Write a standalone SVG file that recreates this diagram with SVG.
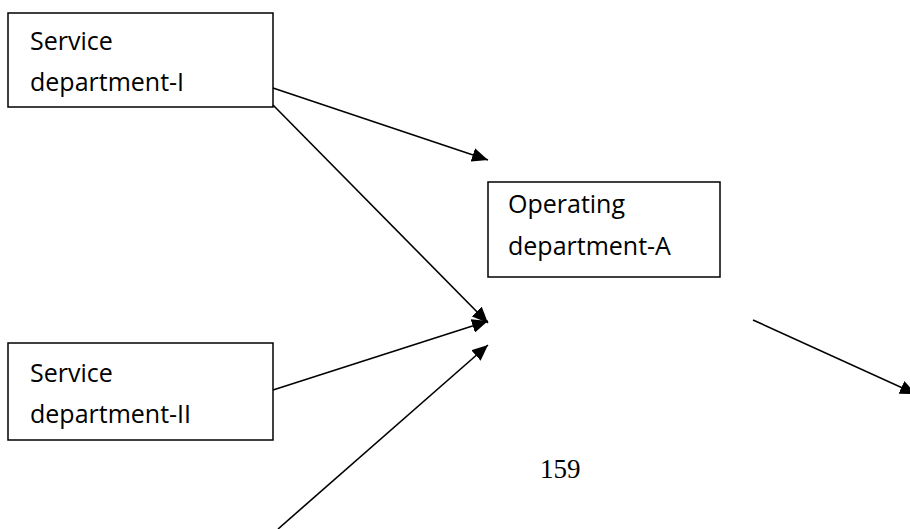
<svg xmlns="http://www.w3.org/2000/svg" width="910" height="529" viewBox="0 0 910 529">
  <style>
    .box { fill: #ffffff; stroke: #000000; stroke-width: 1.5; }
    .label { font-family: "Open Sans", "DejaVu Sans", sans-serif; font-size: 25px; fill: #000000; }
    .edge { fill: none; stroke: #000000; stroke-width: 1.6; marker-end: url(#head); }
    .page { font-family: "Liberation Serif", "Times New Roman", serif; font-size: 27px; fill: #000000; }
  </style>
  <defs>
    <marker id="head" viewBox="0 0 16 14" refX="16" refY="7" markerWidth="16" markerHeight="14" markerUnits="userSpaceOnUse" orient="auto">
      <path d="M0,0 L16,7 L0,14 Z" fill="#000000"/>
    </marker>
  </defs>
  <rect width="910" height="529" fill="#ffffff"/>

  <g id="service-1">
    <rect class="box" x="8" y="13" width="265" height="94"/>
    <text class="label" x="30" y="50">Service</text>
    <text class="label" x="30" y="91">department-I</text>
  </g>

  <g id="operating-a">
    <rect class="box" x="488" y="182" width="232" height="95"/>
    <text class="label" x="508" y="213">Operating</text>
    <text class="label" x="508" y="255">department-A</text>
  </g>

  <g id="service-2">
    <rect class="box" x="8" y="343" width="265" height="97"/>
    <text class="label" x="30" y="382">Service</text>
    <text class="label" x="30" y="423">department-II</text>
  </g>

  <g id="connectors">
    <line class="edge" x1="273" y1="88" x2="488" y2="160"/>
    <line class="edge" x1="273" y1="105" x2="488" y2="323"/>
    <line class="edge" x1="273" y1="390" x2="488" y2="321"/>
    <line class="edge" x1="278" y1="529" x2="488" y2="345"/>
    <line class="edge" x1="753" y1="320" x2="916" y2="394"/>
  </g>

  <text class="page" x="540" y="478">159</text>
</svg>
